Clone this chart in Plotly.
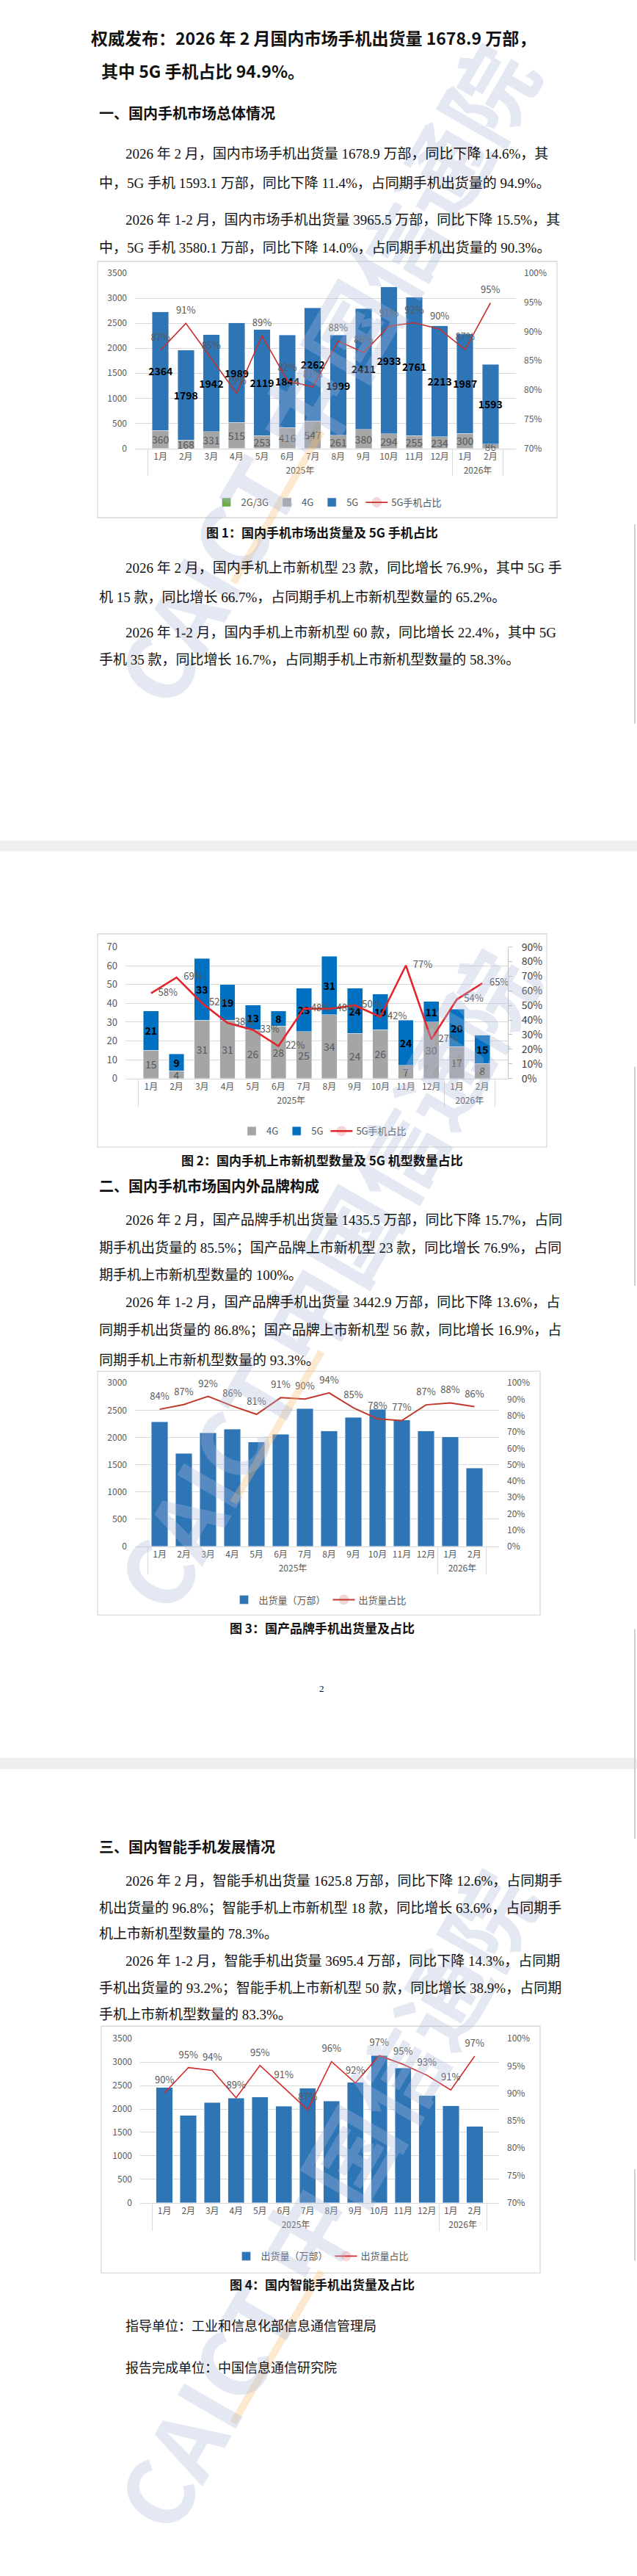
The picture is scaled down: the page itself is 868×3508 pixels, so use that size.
import plotly.graph_objects as go

W, H = 868, 3508

# ---------------- data ----------------
months = ["1月", "2月", "3月", "4月", "5月", "6月", "7月", "8月", "9月", "10月", "11月", "12月", "1月", "2月"]
years = ["2025年", "2025年", "2025年", "2025年", "2025年", "2025年", "2025年", "2025年",
         "2025年", "2025年", "2025年", "2025年", "2026年", "2026年"]

# Fig 1: shipments (万部) by network + 5G share
c1_2g3g = [0, 0, 0, 0, 0, 0, 0, 0, 0, 0, 0, 0, 0, 0]
c1_4g = [360, 168, 331, 515, 253, 416, 547, 261, 380, 294, 255, 234, 300, 86]
c1_5g = [2364, 1798, 1942, 1989, 2119, 1844, 2262, 1999, 2411, 2933, 2761, 2213, 1987, 1593]
c1_ratio = [0.868, 0.914, 0.854, 0.794, 0.893, 0.816, 0.805, 0.884, 0.864, 0.909, 0.915, 0.904, 0.869, 0.949]
c1_ratio_txt = ["87%", "91%", "85%", "79%", "89%", "82%", "81%", "88%", "86%", "91%", "92%", "90%", "87%", "95%"]

# Fig 2: new models + 5G share
c2_4g = [15, 4, 31, 31, 26, 28, 25, 34, 24, 26, 7, 30, 17, 8]
c2_5g = [21, 9, 33, 19, 13, 8, 23, 31, 24, 19, 24, 11, 20, 15]
c2_ratio = [0.583, 0.692, 0.516, 0.380, 0.333, 0.222, 0.479, 0.477, 0.500, 0.422, 0.774, 0.268, 0.541, 0.652]
c2_ratio_txt = ["58%", "69%", "52%", "38%", "33%", "22%", "48%", "48%", "50%", "42%", "77%", "27%", "54%", "65%"]

# Fig 3: domestic brands shipments + share
c3_ship = [2285, 1705, 2085, 2150, 1915, 2055, 2530, 2120, 2365, 2515, 2320, 2120, 2007, 1436]
c3_ratio = [0.839, 0.868, 0.918, 0.859, 0.808, 0.910, 0.901, 0.939, 0.848, 0.780, 0.770, 0.866, 0.878, 0.855]
c3_ratio_txt = ["84%", "87%", "92%", "86%", "81%", "91%", "90%", "94%", "85%", "78%", "77%", "87%", "88%", "86%"]

# Fig 4: smartphone shipments + share
c4_ship = [2455, 1862, 2140, 2230, 2255, 2058, 2444, 2167, 2568, 3135, 2875, 2282, 2070, 1626]
c4_ratio = [0.901, 0.947, 0.942, 0.892, 0.951, 0.910, 0.870, 0.958, 0.919, 0.969, 0.953, 0.933, 0.906, 0.968]
c4_ratio_txt = ["90%", "95%", "94%", "89%", "95%", "91%", "87%", "96%", "92%", "97%", "95%", "93%", "91%", "97%"]

# ---------------- page text ----------------
page_texts = [
    ("权威发布：2026 年 2 月国内市场手机出货量 1678.9 万部，", 122, 40, 23, "title"),
    ("其中 5G 手机占比 94.9%。", 136, 85, 23, "title"),
    ("一、国内手机市场总体情况", 133, 143, 20, "head"),
    ("2026 年 2 月，国内市场手机出货量 1678.9 万部，同比下降 14.6%，其", 169, 200, 19, "body"),
    ("中，5G 手机 1593.1 万部，同比下降 11.4%，占同期手机出货量的 94.9%。", 133, 240, 19, "body"),
    ("2026 年 1-2 月，国内市场手机出货量 3965.5 万部，同比下降 15.5%，其", 169, 290, 19, "body"),
    ("中，5G 手机 3580.1 万部，同比下降 14.0%，占同期手机出货量的 90.3%。", 133, 328, 19, "body"),
    ("图 1：国内手机市场出货量及 5G 手机占比", 439, 718, 17, "cap"),
    ("2026 年 2 月，国内手机上市新机型 23 款，同比增长 76.9%，其中 5G 手", 169, 767, 19, "body"),
    ("机 15 款，同比增长 66.7%，占同期手机上市新机型数量的 65.2%。", 133, 807, 19, "body"),
    ("2026 年 1-2 月，国内手机上市新机型 60 款，同比增长 22.4%，其中 5G", 169, 855, 19, "body"),
    ("手机 35 款，同比增长 16.7%，占同期手机上市新机型数量的 58.3%。", 133, 893, 19, "body"),
    ("图 2：国内手机上市新机型数量及 5G 机型数量占比", 439, 1577, 17, "cap"),
    ("二、国内手机市场国内外品牌构成", 133, 1613, 20, "head"),
    ("2026 年 2 月，国产品牌手机出货量 1435.5 万部，同比下降 15.7%，占同", 169, 1660, 19, "body"),
    ("期手机出货量的 85.5%；国产品牌上市新机型 23 款，同比增长 76.9%，占同", 133, 1698, 19, "body"),
    ("期手机上市新机型数量的 100%。", 133, 1735, 19, "body"),
    ("2026 年 1-2 月，国产品牌手机出货量 3442.9 万部，同比下降 13.6%，占", 169, 1773, 19, "body"),
    ("同期手机出货量的 86.8%；国产品牌上市新机型 56 款，同比增长 16.9%，占", 133, 1811, 19, "body"),
    ("同期手机上市新机型数量的 93.3%。", 133, 1852, 19, "body"),
    ("图 3：国产品牌手机出货量及占比", 439, 2218, 17, "cap"),
    ("2", 439, 2302, 13, "page"),
    ("三、国内智能手机发展情况", 133, 2518, 20, "head"),
    ("2026 年 2 月，智能手机出货量 1625.8 万部，同比下降 12.6%，占同期手", 169, 2565, 19, "body"),
    ("机出货量的 96.8%；智能手机上市新机型 18 款，同比增长 63.6%，占同期手", 133, 2602, 19, "body"),
    ("机上市新机型数量的 78.3%。", 133, 2638, 19, "body"),
    ("2026 年 1-2 月，智能手机出货量 3695.4 万部，同比下降 14.3%，占同期", 169, 2675, 19, "body"),
    ("手机出货量的 93.2%；智能手机上市新机型 50 款，同比增长 38.9%，占同期", 133, 2712, 19, "body"),
    ("手机上市新机型数量的 83.3%。", 133, 2748, 19, "body"),
    ("图 4：国内智能手机出货量及占比", 439, 3117, 17, "cap"),
    ("指导单位：工业和信息化部信息通信管理局", 169, 3175, 18, "body"),
    ("报告完成单位：中国信息通信研究院", 169, 3232, 18, "body"),
]

BODY = "Liberation Serif, Noto Sans CJK SC, serif"
HEI = "Noto Sans CJK SC, sans-serif"
CH = "Noto Sans CJK SC, sans-serif"
GRAY = "#595959"
GRID = "#d9d9d9"


def dom_x(a, b):
    return [a / W, b / W]


def dom_y(top, bottom):
    return [1 - bottom / H, 1 - top / H]


fig = go.Figure()
X = [years, months]

bar_txt = dict(textposition="inside", insidetextanchor="middle", textangle=0,
               constraintext="none", cliponaxis=False)

# ---------- chart 1 ----------
fig.add_trace(go.Bar(x=X, y=c1_2g3g, name="2G/3G", marker_color="#70AD47", width=0.65,
                     xaxis="x", yaxis="y", legend="legend"))
fig.add_trace(go.Bar(x=X, y=c1_4g, name="4G", marker_color="#A5A5A5", width=0.65,
                     text=[str(v) for v in c1_4g], textfont=dict(size=14, color=GRAY, family=CH),
                     xaxis="x", yaxis="y", legend="legend", **bar_txt))
fig.add_trace(go.Bar(x=X, y=c1_5g, name="5G", marker_color="#2E75B6", width=0.65,
                     text=[f"<b>{v}</b>" for v in c1_5g], textfont=dict(size=14, color="#000000", family=CH),
                     xaxis="x", yaxis="y", legend="legend", **bar_txt))
fig.add_trace(go.Scatter(x=X, y=c1_ratio, name="5G手机占比", mode="lines+markers+text",
                         line=dict(color="#C8302E", width=1.6), marker=dict(size=14, opacity=0),
                         text=c1_ratio_txt, textposition="top center",
                         textfont=dict(size=13, color=GRAY, family=CH), cliponaxis=False,
                         xaxis="x", yaxis="y2", legend="legend"))

# ---------- chart 2 ----------
fig.add_trace(go.Bar(x=X, y=c2_4g, name="4G", marker_color="#A5A5A5", width=0.6,
                     text=[str(v) for v in c2_4g], textfont=dict(size=14, color=GRAY, family=CH),
                     xaxis="x2", yaxis="y3", legend="legend2", **bar_txt))
fig.add_trace(go.Bar(x=X, y=c2_5g, name="5G", marker_color="#0070C0", width=0.6,
                     text=[f"<b>{v}</b>" for v in c2_5g], textfont=dict(size=14, color="#000000", family=CH),
                     xaxis="x2", yaxis="y3", legend="legend2", **bar_txt))
fig.add_trace(go.Scatter(x=X, y=c2_ratio, name="5G手机占比", mode="lines+markers+text",
                         line=dict(color="#E3262B", width=2.6), marker=dict(size=14, opacity=0),
                         text=c2_ratio_txt, textposition="middle right",
                         textfont=dict(size=13, color=GRAY, family=CH), cliponaxis=False,
                         xaxis="x2", yaxis="y4", legend="legend2"))

# ---------- chart 3 ----------
fig.add_trace(go.Bar(x=X, y=c3_ship, name="出货量（万部）", marker_color="#2E75B6", width=0.68,
                     xaxis="x3", yaxis="y5", legend="legend3"))
fig.add_trace(go.Scatter(x=X, y=c3_ratio, name="出货量占比", mode="lines+markers+text",
                         line=dict(color="#C0392B", width=2), marker=dict(size=14, opacity=0),
                         text=c3_ratio_txt, textposition="top center",
                         textfont=dict(size=13, color=GRAY, family=CH), cliponaxis=False,
                         xaxis="x3", yaxis="y6", legend="legend3"))

# ---------- chart 4 ----------
fig.add_trace(go.Bar(x=X, y=c4_ship, name="出货量（万部）", marker_color="#2E75B6", width=0.69,
                     xaxis="x4", yaxis="y7", legend="legend4"))
fig.add_trace(go.Scatter(x=X, y=c4_ratio, name="出货量占比", mode="lines+markers+text",
                         line=dict(color="#D42A2A", width=1.6), marker=dict(size=14, opacity=0),
                         text=c4_ratio_txt, textposition="top center",
                         textfont=dict(size=13, color=GRAY, family=CH), cliponaxis=False,
                         xaxis="x4", yaxis="y8", legend="legend4"))


def xax(dom, anchor):
    return dict(domain=dom, anchor=anchor, type="multicategory", showgrid=False, showline=True,
                linecolor=GRID, ticks="", tickangle=0, tickfont=dict(size=12, color=GRAY, family=CH),
                showdividers=True, dividercolor=GRID, dividerwidth=1, fixedrange=True)


def yleft(dom, anchor, rng, dtick, size=12):
    return dict(domain=dom, anchor=anchor, range=rng, dtick=dtick, gridcolor=GRID, gridwidth=1,
                zeroline=False, showline=False, ticks="", ticklabelstandoff=10,
                tickfont=dict(size=size, color=GRAY, family=CH), fixedrange=True)


def yright(over, anchor, rng, dtick, size=12, color=GRAY, **kw):
    d = dict(overlaying=over, side="right", anchor=anchor, range=rng, dtick=dtick, tickformat=".0%",
             showgrid=False, zeroline=False, ticks="", ticklabelstandoff=10,
             tickfont=dict(size=size, color=color, family=CH), fixedrange=True)
    d.update(kw)
    return d


def leg(cx, cy):
    return dict(orientation="h", x=cx / W, y=1 - cy / H, xanchor="center", yanchor="middle",
                font=dict(size=13, color=GRAY, family=CH), bgcolor="rgba(0,0,0,0)",
                itemwidth=30, traceorder="normal")


# page shapes
shapes = []
for (x0, y0, x1, y1) in [(133, 347, 759, 698), (133, 1268, 745, 1560),
                         (133, 1867, 736, 2201), (138, 2764, 736, 3102)]:
    shapes.append(dict(type="rect", xref="paper", yref="paper", x0=x0 / W, x1=x1 / W,
                       y0=1 - y1 / H, y1=1 - y0 / H, line=dict(color="#d9d9d9", width=1.3),
                       fillcolor="rgba(0,0,0,0)", layer="below"))
for (y0, y1) in [(1140, 1155), (2397, 2412)]:
    shapes.append(dict(type="rect", xref="paper", yref="paper", x0=0, x1=1,
                       y0=1 - y1 / H, y1=1 - y0 / H, line=dict(width=0), fillcolor="#efefef",
                       layer="below"))
for (y0, y1) in [(707, 980), (1450, 1750), (2220, 2507), (2960, 3085)]:
    shapes.append(dict(type="line", xref="paper", yref="paper", x0=865 / W, x1=865 / W,
                       y0=1 - y1 / H, y1=1 - y0 / H, line=dict(color="#cfcfcf", width=2)))

# watermark
annotations = []
for (cx, cy) in [(440, 500), (440, 1740), (440, 3000)]:
    annotations.append(dict(text="<b>CAICT 中国信通院</b>", x=cx / W, y=1 - cy / H, xref="paper",
                            yref="paper", xanchor="center", yanchor="middle", showarrow=False,
                            textangle=-60, font=dict(size=124, color="rgba(170,182,215,0.32)", family=HEI)))
for (xa, ya, xb, yb) in [(318, 787, 438, 580), (318, 2047, 438, 1840), (318, 3307, 438, 3100)]:
    shapes.append(dict(type="line", xref="paper", yref="paper", x0=xa / W, x1=xb / W,
                       y0=1 - ya / H, y1=1 - yb / H, line=dict(color="rgba(250,190,120,0.35)", width=10)))

for (t, x, y, size, style) in page_texts:
    if style == "title":
        txt, fam, anchor = f"<b>{t}</b>", HEI, "left"
    elif style == "head":
        txt, fam, anchor = f"<b>{t}</b>", HEI, "left"
    elif style == "cap":
        txt, fam, anchor = f"<b>{t}</b>", HEI, "center"
    elif style == "page":
        txt, fam, anchor = t, BODY, "center"
    else:
        txt, fam, anchor = t, BODY, "left"
    annotations.append(dict(text=txt, x=x / W, y=1 - y / H, xref="paper", yref="paper",
                            xanchor=anchor, yanchor="middle", showarrow=False,
                            font=dict(size=size, color="#111111", family=fam)))

fig.update_layout(
    width=W, height=H, autosize=False,
    margin=dict(l=0, r=0, t=0, b=0),
    paper_bgcolor="white", plot_bgcolor="rgba(0,0,0,0)",
    barmode="stack", showlegend=True,
    font=dict(family=CH, color=GRAY),
    xaxis=xax(dom_x(184, 703), "y"),
    yaxis=yleft(dom_y(363, 603), "x", [0, 3500], 500),
    yaxis2=yright("y", "x", [0.70, 1.0], 0.05),
    xaxis2=xax(dom_x(171, 692), "y3"),
    yaxis3=yleft(dom_y(1286, 1466), "x2", [0, 70], 10, size=13),
    yaxis4=yright("y3", "x2", [0, 0.9], 0.1, size=14, color="#404040", showline=True,
                  linecolor="#bfbfbf", ticklen=5, tickcolor="#bfbfbf"),
    xaxis3=xax(dom_x(184, 680), "y5"),
    yaxis5=yleft(dom_y(1883, 2107), "x3", [0, 3000], 500),
    yaxis6=yright("y5", "x3", [0, 1.0], 0.1),
    xaxis4=xax(dom_x(191, 680), "y7"),
    yaxis7=yleft(dom_y(2781, 3006), "x4", [0, 3500], 500),
    yaxis8=yright("y7", "x4", [0.70, 1.0], 0.05),
    legend=leg(448, 677),
    legend2=leg(441, 1538),
    legend3=leg(436, 2180),
    legend4=leg(439, 3079),
    shapes=shapes,
    annotations=annotations,
)
fig.layout.yaxis4.ticks = "outside"

fig.write_html("out.html", config={"displayModeBar": False},
               post_script="document.body.style.margin='0';document.body.style.overflow='hidden';")
